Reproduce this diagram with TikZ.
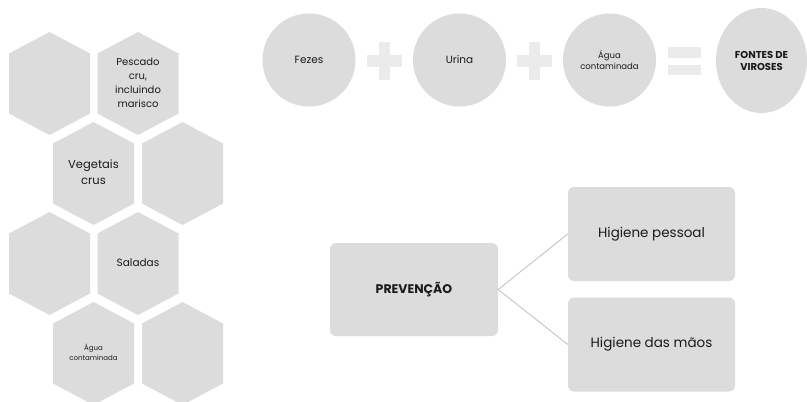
\documentclass[tikz,border=0pt]{standalone}
\usepackage{fontspec}
\setmainfont{Poppins}
\usetikzlibrary{shapes.geometric}

\definecolor{cellgray}{HTML}{DCDCDC}
\definecolor{signgray}{HTML}{EBEBEB}
\definecolor{linegray}{HTML}{C4C4C4}
\definecolor{inkgray}{HTML}{1A1A1A}

\tikzset{
  hexfill/.style={fill=cellgray},
  hextext/.style={align=center,text=inkgray},
  bubble/.style={circle,fill=cellgray,minimum size=93pt,inner sep=0pt,align=center,
    text=inkgray,font=\fontsize{10.5}{12}\selectfont},
  signbar/.style={fill=signgray},
  card/.style={rectangle,rounded corners=6pt,fill=cellgray,minimum width=168pt,
    minimum height=93pt,text=inkgray,font=\fontsize{13.5}{15}\selectfont},
  link/.style={draw=linegray,line width=0.9pt}
}

\begin{document}
\begin{tikzpicture}[x=1pt,y=-1pt]
  \useasboundingbox[fill=white] (0,0) rectangle (807,402);

  % honeycomb on the left
  \foreach \cx/\cy/\fs/\bs/\nm/\txt in {49.5/83.5/10/14/h1/{},
                                        138/83.5/10/14/h2/{Pescado\\cru,\\incluindo\\marisco},
                                        93.5/173.5/11.5/16/h3/{Vegetais\\crus},
                                        182.5/173.5/10/14/h4/{},
                                        49.5/263.5/10/14/h5/{},
                                        138/263.5/10.5/14/h6/{Saladas},
                                        93.5/353.5/7/9.5/h7/{Água\\contaminada},
                                        182.5/353.5/10/14/h8/{}} {
    \fill[hexfill] (\cx,\cy-51.5) -- (\cx+40.5,\cy-30) -- (\cx+40.5,\cy+30)
      -- (\cx,\cy+51.5) -- (\cx-40.5,\cy+30) -- (\cx-40.5,\cy-30) -- cycle;
    \node[hextext,font=\fontsize{\fs}{\bs}\selectfont] (\nm) at (\cx,\cy-1) {\txt};
  }

  % sources of viruses
  \node[bubble] (fezes) at (309,60) {Fezes};
  \node[bubble] (urina) at (459.5,60) {Urina};
  \node[bubble,font=\fontsize{8.5}{11}\selectfont] (agua) at (609.5,60) {Água\\contaminada};
  \node[bubble,ellipse,minimum width=91pt,minimum height=105pt,
    font=\bfseries\fontsize{10}{12}\selectfont] (fontes) at (761.5,60.5) {FONTES DE\\VIROSES};

  \coordinate (plus1) at (384.5,61);
  \coordinate (plus2) at (534,61);
  \coordinate (equal) at (684.5,61);
  \foreach \p in {plus1,plus2} {
    \fill[signbar] ([xshift=-5.5pt,yshift=-19pt]\p) rectangle ([xshift=5.5pt,yshift=19pt]\p);
    \fill[signbar] ([xshift=-17.5pt,yshift=-6pt]\p) rectangle ([xshift=17.5pt,yshift=6pt]\p);
  }
  \fill[signbar] ([xshift=-16.5pt,yshift=-14pt]equal) rectangle ([xshift=16.5pt,yshift=-3.5pt]equal);
  \fill[signbar] ([xshift=-16.5pt,yshift=3pt]equal) rectangle ([xshift=16.5pt,yshift=14pt]equal);

  % prevention tree
  \node[card,font=\bfseries\fontsize{12.5}{14}\selectfont] (prev) at (414,289.5) {PREVENÇÃO};
  \node[card,minimum width=167pt,minimum height=94pt] (pessoal) at (651.5,234) {Higiene pessoal};
  \node[card,minimum width=167pt,minimum height=94pt] (maos) at (651.5,344.5) {Higiene das mãos};

  \draw[link] (prev.east) -- (pessoal.west);
  \draw[link] (prev.east) -- (maos.west);
\end{tikzpicture}
\end{document}
